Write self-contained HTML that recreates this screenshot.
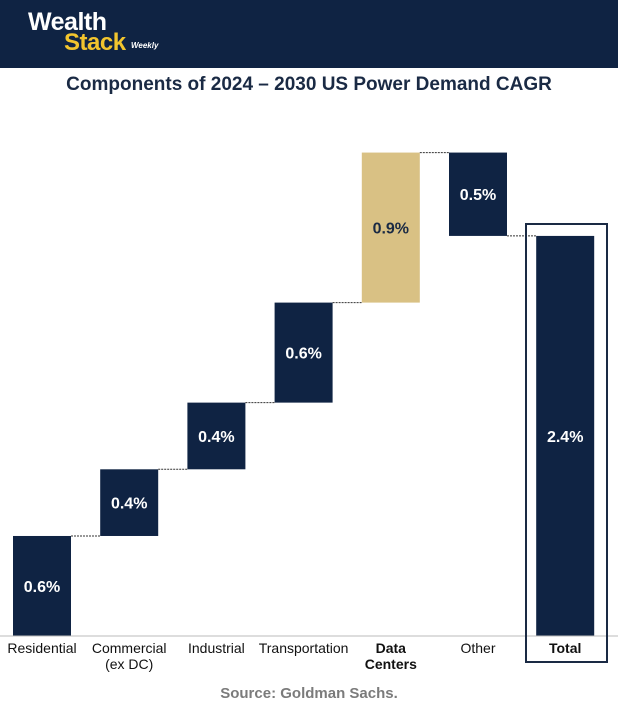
<!DOCTYPE html>
<html><head><meta charset="utf-8"><style>
body{margin:0;width:618px;height:712px;background:#fff;font-family:"Liberation Sans",Arial,sans-serif;overflow:hidden;position:relative}
#hdr{position:absolute;left:0;top:0;width:618px;height:68px;background:#0f2343}
.w{position:absolute;left:28px;top:8px;color:#fff;font-weight:bold;font-size:25px;letter-spacing:-0.5px}
.s{position:absolute;left:64px;top:29px;color:#f2c52e;font-weight:bold;font-size:24px;letter-spacing:-0.5px}
.wk{position:absolute;left:131px;top:41px;color:#fff;font-weight:bold;font-style:italic;font-size:8px}
#title{position:absolute;left:0;top:74px;width:618px;text-align:center;font-weight:bold;font-size:19px;color:#1a2a44}
#src{position:absolute;left:0;top:685px;width:618px;text-align:center;font-weight:bold;font-size:15px;color:#7b7b7b}
svg{position:absolute;left:0;top:0}
</style></head><body>
<div id="hdr">
<div class="w">Wealth</div>
<div class="s">Stack</div>
<div class="wk">Weekly</div>
</div>
<div id="title">Components of 2024 – 2030 US Power Demand CAGR</div>
<svg id="chart" width="618" height="712"></svg>
<div id="src">Source: Goldman Sachs.</div>
<script>
const categories=["Residential","Commercial|(ex DC)","Industrial","Transportation","Data|Centers","Other","Total"];
const deltas=[0.6,0.4,0.4,0.6,0.9,-0.5];
const valueLabels=["0.6%","0.4%","0.4%","0.6%","0.9%","0.5%","2.4%"];
const NS="http://www.w3.org/2000/svg";
const svg=document.getElementById('chart');
const base=636, pxPer=166.7;
const y=v=>base-v*pxPer;
const x=i=>13+i*87.2;
const bw=58;
function mk(t,a){const e=document.createElementNS(NS,t);for(const k in a)e.setAttribute(k,a[k]);svg.appendChild(e);return e;}
let cum=0;const tops=[];
const total=deltas.reduce((a,b)=>a+b,0);
for(let i=0;i<=deltas.length;i++){
  let lo,hi;
  if(i<deltas.length){const s=cum,e=cum+deltas[i];lo=Math.min(s,e);hi=Math.max(s,e);cum=e;}
  else{lo=0;hi=total;}
  const r=mk('rect',{x:x(i),y:y(hi),width:bw,height:y(lo)-y(hi),fill:i===4?'#d9c184':'#0f2343'});
  
  
  const t=mk('text',{x:x(i)+bw/2,y:(y(hi)+y(lo))/2+6,'text-anchor':'middle','font-size':16,'font-weight':'bold',fill:i===4?'#1a2a44':'#fff'});
  t.textContent=valueLabels[i];
  
  
  if(i<deltas.length){
    const c=mk('line',{x1:x(i)+bw,x2:x(i+1)+(i+1===deltas.length?0:0),y1:y(cum),y2:y(cum),stroke:'#333','stroke-width':1,'stroke-dasharray':'2,1'});
    
    
  }
  const parts=categories[i].split('|');
  parts.forEach((p,j)=>{
    const l=mk('text',{x:x(i)+bw/2,y:653+j*16,'text-anchor':'middle','font-size':14,fill:'#111','font-weight':(i>=6||i===4)?'bold':'normal'});
    l.textContent=p;
    
    
  });
}
const ax=mk('line',{x1:0,x2:618,y1:base,y2:base,stroke:'#bbb','stroke-width':1});


const box=mk('rect',{x:526,y:224,width:81,height:438,fill:'none',stroke:'#1a2a44','stroke-width':2});


</script>
</body></html>
